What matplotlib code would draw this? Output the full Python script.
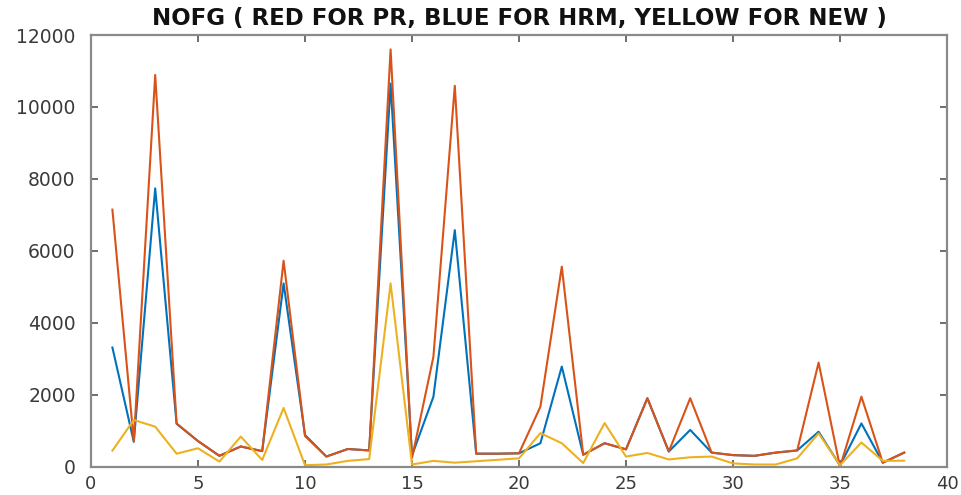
import matplotlib
matplotlib.use("Agg")
import matplotlib.pyplot as plt

x = list(range(1, 39))
hrm = [3320, 700, 7740, 1200, 720, 310, 570, 440, 5100, 890,
       290, 500, 460, 10650, 320, 1950, 6580, 370, 370, 380,
       660, 2790, 340, 660, 490, 1910, 430, 1030, 400, 330,
       310, 400, 460, 980, 40, 1210, 120, 400]
pr = [7150, 720, 10890, 1210, 720, 310, 570, 440, 5730, 860,
      290, 500, 460, 11600, 250, 3060, 10590, 370, 370, 380,
      1675, 5565, 340, 660, 490, 1910, 430, 1910, 400, 330,
      310, 400, 460, 2900, 0, 1955, 120, 400]
new = [455, 1305, 1120, 370, 520, 150, 845, 195, 1640, 50,
       70, 170, 220, 5100, 70, 170, 120, 160, 200, 240,
       940, 660, 110, 1220, 290, 390, 210, 270, 290, 100,
       70, 70, 240, 935, 50, 680, 170, 175]

title = "NOFG ( RED FOR PR, BLUE FOR HRM, YELLOW FOR NEW )"
xticks = [0, 5, 10, 15, 20, 25, 30, 35, 40]
yticks = [0, 2000, 4000, 6000, 8000, 10000, 12000]

W, H = 962, 495
fig = plt.figure(figsize=(W / 100, H / 100), dpi=100)
ax = fig.add_axes([91 / W, (H - 467) / H, (947 - 91) / W, (467 - 35) / H])

ax.plot(x, hrm, color="#0072BD", lw=1.5)
ax.plot(x, pr, color="#D95319", lw=1.5)
ax.plot(x, new, color="#EDB120", lw=1.5)

ax.set_xlim(0, 40)
ax.set_ylim(0, 12000)
ax.set_xticks(xticks)
ax.set_yticks(yticks)
ax.set_xticklabels([str(t) for t in xticks])
ax.set_yticklabels([str(t) for t in yticks])

spine_col = "#8a8a8a"
for s in ax.spines.values():
    s.set_color(spine_col)
    s.set_linewidth(1.6)
ax.tick_params(direction="in", length=5, width=1.2, color="#555555",
               top=True, right=True, labelsize=13.5, labelcolor="#3a3a3a")
ax.tick_params(axis="x", pad=6, labelsize=13)
ax.tick_params(axis="y", pad=11)
for lab in ax.get_xticklabels() + ax.get_yticklabels():
    lab.set_family("DejaVu Sans")

ax.set_title(title, fontsize=16.5, fontweight="bold", family="DejaVu Sans",
             pad=7, color="#111111")

fig.savefig("out.png", dpi=100)
